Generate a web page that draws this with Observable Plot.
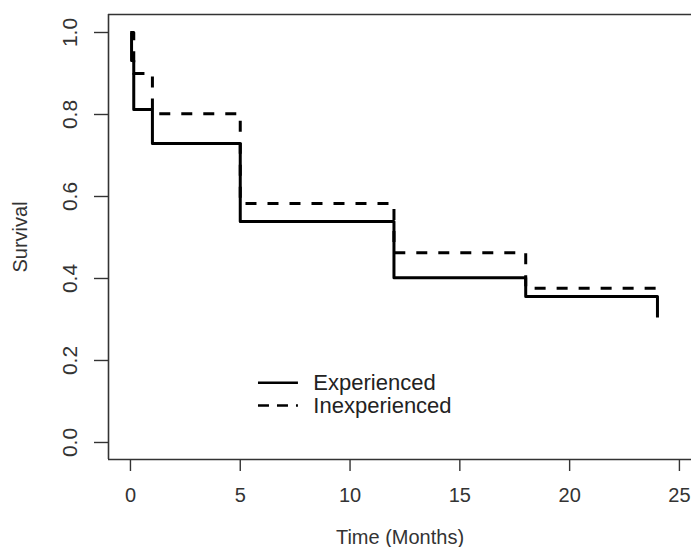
<!DOCTYPE html>
<html>
<head>
<meta charset="utf-8">
<script src="https://cdn.jsdelivr.net/npm/d3@7"></script>
<script src="https://cdn.jsdelivr.net/npm/@observablehq/plot@0.6"></script>
<style>
  html, body { margin: 0; padding: 0; background: #fff; }
  #chart svg { display: block; }
</style>
</head>
<body>
<div id="chart"></div>
<script>
// Kaplan-Meier style survival steps
const experiencedTime = [0, 0.05, 0.15, 1, 5, 12, 18, 24];
const experiencedSurv = [1, 0.932, 0.812, 0.729, 0.539, 0.402, 0.356, 0.305];
const inexperiencedTime = [0, 0.15, 1, 5, 12, 18, 24];
const inexperiencedSurv = [1, 0.9, 0.802, 0.583, 0.463, 0.376, 0.368];

const xTicks = [0, 5, 10, 15, 20, 25];
const yTicks = [0, 0.2, 0.4, 0.6, 0.8, 1.0];
const seriesNames = ["Experienced", "Inexperienced"];
const xLabel = "Time (Months)";
const yLabel = "Survival";

// legend placement (in data units, inside the plot box)
const legendLineX = [5.83, 7.65];
const legendTextX = 8.33;
const legendRowY = [0.146, 0.090];

const expData = experiencedTime.map((t, i) => ({t, s: experiencedSurv[i]}));
const inexpData = inexperiencedTime.map((t, i) => ({t, s: inexperiencedSurv[i]}));
const legendRows = seriesNames.map((name, i) => ({name, y: legendRowY[i]}));

const xDomain = [-1.0, 25.55];
const yDomain = [-0.0415, 1.0439];

const chart = Plot.plot({
  width: 691,
  height: 547,
  marginLeft: 108,
  marginRight: 0,
  marginTop: 14,
  marginBottom: 88,
  style: {fontFamily: "'Liberation Sans', Arial, sans-serif", fontSize: "20px", color: "#333", background: "#fff"},
  x: {domain: xDomain, label: null},
  y: {domain: yDomain, label: null},
  marks: [
    // box (right side lies beyond the picture)
    Plot.ruleY([yDomain[0], yDomain[1]], {stroke: "#333", strokeWidth: 1.6}),
    Plot.ruleX([xDomain[0]], {stroke: "#333", strokeWidth: 1.6}),
    // axes
    Plot.axisY({ticks: yTicks, tickSize: 14, tickFormat: () => "", label: null, stroke: "#333", strokeWidth: 1.4}),
    Plot.text(yTicks, {y: d => d, text: d => d.toFixed(1), frameAnchor: "left", dx: -38, rotate: -90, textAnchor: "middle", lineAnchor: "middle", fill: "#333", fontSize: 21}),
    Plot.axisX({ticks: xTicks, tickSize: 12, tickPadding: 16, label: null, stroke: "#333", strokeWidth: 1.4, fill: "#333"}),
    Plot.text([xLabel], {frameAnchor: "bottom", dy: 84, lineAnchor: "bottom", fill: "#333"}),
    Plot.text([yLabel], {frameAnchor: "left", dx: -88, rotate: -90, textAnchor: "middle", lineAnchor: "middle", fill: "#333"}),
    // curves
    Plot.line(inexpData, {x: "t", y: "s", curve: "step-after", stroke: "#000", strokeWidth: 3, strokeDasharray: "11,11", strokeLinecap: "butt"}),
    Plot.line(expData, {x: "t", y: "s", curve: "step-after", stroke: "#000", strokeWidth: 3, strokeLinecap: "butt"}),
    // legend
    Plot.ruleY([legendRows[0]], {y: "y", x1: legendLineX[0], x2: legendLineX[1], stroke: "#000", strokeWidth: 2.5}),
    Plot.ruleY([legendRows[1]], {y: "y", x1: legendLineX[0], x2: legendLineX[1], stroke: "#000", strokeWidth: 2.5, strokeDasharray: "11,8"}),
    Plot.text(legendRows, {x: legendTextX, y: "y", text: "name", textAnchor: "start", lineAnchor: "middle", fill: "#222", fontSize: 22})
  ]
});
document.getElementById("chart").appendChild(chart);
</script>
</body>
</html>
